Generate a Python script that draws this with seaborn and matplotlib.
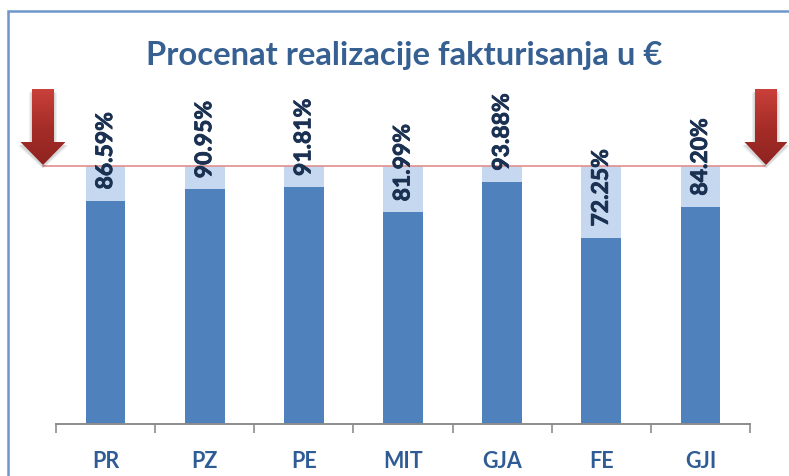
import numpy as np
import pandas as pd
import matplotlib
matplotlib.use('Agg')
import matplotlib.pyplot as plt
import matplotlib.patheffects as pe
from matplotlib.patches import Polygon
import seaborn as sns

# Data
categories = ['PR', 'PZ', 'PE', 'MIT', 'GJA', 'FE', 'GJI']
realizacija = [86.59, 90.95, 91.81, 81.99, 93.88, 72.25, 84.20]
plan = [100, 100, 100, 100, 100, 100, 100]
title = 'Procenat realizacije fakturisanja u €'

W, H = 789, 476
sns.set_theme(style='white')
plt.rcParams['font.family'] = ['Lato', 'DejaVu Sans']

df = pd.DataFrame({'odsek': categories, 'realizacija': realizacija, 'plan': plan})

fig = plt.figure(figsize=(W / 100, H / 100), dpi=100, facecolor='white')
ax = fig.add_axes([56 / W, 1 - 424 / H, 694 / W, 258 / H])

# Bars
sns.barplot(data=df, x='odsek', y='plan', color='#c6d8f0', width=0.4, saturation=1, linewidth=0, ax=ax)
sns.barplot(data=df, x='odsek', y='realizacija', color='#4f81bd', width=0.4, saturation=1, linewidth=0, ax=ax)
ax.set_xlim(-0.5, 6.5)
ax.set_ylim(0, 100)
ax.set_xlabel('')
ax.set_ylabel('')
ax.set_yticks([])

# Axis
for side in ['top', 'left', 'right']:
    ax.spines[side].set_visible(False)
ax.spines['bottom'].set_color('#8c8c8c')
ax.spines['bottom'].set_linewidth(1.4)
ax.set_xticks(np.arange(-0.5, 7), minor=True)
ax.tick_params(axis='x', which='minor', bottom=True, length=6.5, width=1.2, color='#8c8c8c')
ax.tick_params(axis='x', which='major', bottom=False, pad=13.5)
ax.set_xticks(range(len(categories)))
ax.set_xticklabels(categories, fontsize=15.5, fontweight='bold', color='#2f5c94')

# Target line at 100%, under the value labels
ax.plot([-13 / 694, 709 / 694], [100, 100], transform=ax.get_yaxis_transform(),
        color='#e08f8c', lw=1.2, clip_on=False, zorder=4)

# Value labels
for i, v in enumerate(realizacija):
    ax.annotate(f'{v:.2f}%', (i, v), xytext=(0, 8), textcoords='offset points',
                rotation=90, ha='center', va='bottom', fontsize=16.5, fontweight='bold',
                color='#1b3152', annotation_clip=False, zorder=6,
                path_effects=[pe.withStroke(linewidth=0.6, foreground='#1b3152')])

# Overlay in pixels for the frame, title and arrows
ov = fig.add_axes([0, 0, 1, 1], zorder=5)
ov.patch.set_alpha(0)

ov.plot([8, 8, W], [H, 11, 11], color='#6f96cc', lw=1.8, solid_joinstyle='miter')
ov.text(404, 55, title, ha='center', va='center', fontsize=23.6, fontweight='bold', color='#376092')

grad = np.linspace(0, 1, 64).reshape(-1, 1)
cmap = matplotlib.colors.LinearSegmentedColormap.from_list('arrow', ['#c9403a', '#a62d28', '#8f2320'])
for tip, half_shaft, half_head in [(43, 11, 22.5), (766, 11, 21.5)]:
    pts = [(tip - half_shaft, 89), (tip + half_shaft, 89), (tip + half_shaft, 142), (tip + half_head, 142),
           (tip, 165), (tip - half_head, 142), (tip - half_shaft, 142)]
    # soft shadow
    for grow, alpha in [(3, 0.06), (1.5, 0.10)]:
        shadow = [(x + (grow if x > tip else -grow if x < tip else 0), y + 2 + grow / 2) for x, y in pts]
        ov.add_patch(Polygon(shadow, closed=True, facecolor='black', edgecolor='none', alpha=alpha))
    shape = Polygon(pts, closed=True, facecolor='none', edgecolor='none')
    ov.add_patch(shape)
    im = ov.imshow(grad, cmap=cmap, extent=(tip - half_head, tip + half_head, 165, 89), aspect='auto', zorder=3)
    im.set_clip_path(shape)
ov.set_xlim(0, W)
ov.set_ylim(H, 0)
ov.axis('off')

fig.savefig('out.png', dpi=100)
